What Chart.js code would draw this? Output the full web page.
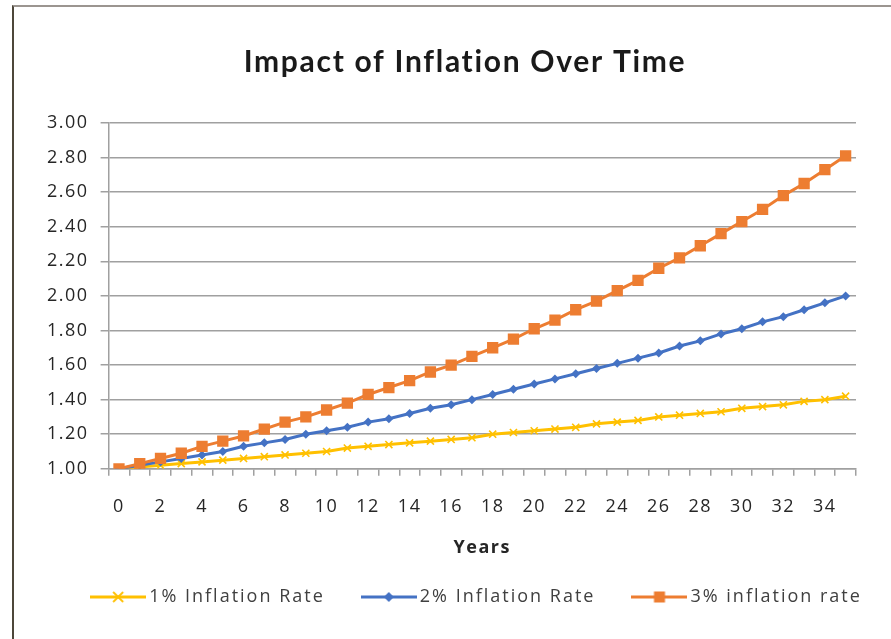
<!DOCTYPE html>
<html>
<head>
<meta charset="utf-8">
<title>Impact of Inflation Over Time</title>
<script src="https://cdn.jsdelivr.net/npm/chart.js@4/dist/chart.umd.min.js"></script>
<style>
  html, body { margin: 0; padding: 0; background: #ffffff; }
  #wrap { position: relative; width: 891px; height: 639px; overflow: hidden; }
  #frame {
    position: absolute; left: 12px; top: 5px; right: -10px; bottom: -10px;
    border-left: 2px solid #4d473a; border-top: 2px solid #9b9590;
    pointer-events: none;
  }
</style>
</head>
<body>
<div id="wrap">
  <canvas id="chart" width="891" height="639"></canvas>
  <div id="frame"></div>
</div>
<script>
// Years since start
const years = [0,1,2,3,4,5,6,7,8,9,10,11,12,13,14,15,16,17,18,19,20,21,22,23,24,25,26,27,28,29,30,31,32,33,34,35];

// Growth of 1.00 under each inflation rate
const rate1 = [1.00,1.01,1.02,1.03,1.04,1.05,1.06,1.07,1.08,1.09,1.10,1.12,1.13,1.14,1.15,1.16,1.17,1.18,1.20,1.21,1.22,1.23,1.24,1.26,1.27,1.28,1.30,1.31,1.32,1.33,1.35,1.36,1.37,1.39,1.40,1.42];
const rate2 = [1.00,1.02,1.04,1.06,1.08,1.10,1.13,1.15,1.17,1.20,1.22,1.24,1.27,1.29,1.32,1.35,1.37,1.40,1.43,1.46,1.49,1.52,1.55,1.58,1.61,1.64,1.67,1.71,1.74,1.78,1.81,1.85,1.88,1.92,1.96,2.00];
const rate3 = [1.00,1.03,1.06,1.09,1.13,1.16,1.19,1.23,1.27,1.30,1.34,1.38,1.43,1.47,1.51,1.56,1.60,1.65,1.70,1.75,1.81,1.86,1.92,1.97,2.03,2.09,2.16,2.22,2.29,2.36,2.43,2.50,2.58,2.65,2.73,2.81];

const chartTitle = 'Impact of Inflation Over Time';
const seriesNames = ['1% Inflation Rate', '2% Inflation Rate', '3% inflation rate'];
const seriesColors = ['#FFC000', '#4472C4', '#ED7D31'];

const yMin = 1.0, yMax = 3.0, yStep = 0.2;

const FONT = "'Open Sans', 'DejaVu Sans', sans-serif";

// Legend swatch: a short line with the series marker in the middle
function legendSwatch(color, kind) {
  const c = document.createElement('canvas');
  c.width = 56; c.height = 16;
  const g = c.getContext('2d');
  g.strokeStyle = color; g.fillStyle = color;
  g.lineWidth = 3; g.lineCap = 'butt';
  g.beginPath(); g.moveTo(0, 8); g.lineTo(56, 8); g.stroke();
  const cx = 28, cy = 8;
  if (kind === 'x') {
    g.lineWidth = 1.8;
    g.beginPath();
    g.moveTo(cx - 5, cy - 5); g.lineTo(cx + 5, cy + 5);
    g.moveTo(cx + 5, cy - 5); g.lineTo(cx - 5, cy + 5);
    g.stroke();
  } else if (kind === 'diamond') {
    g.beginPath();
    g.moveTo(cx, cy - 5); g.lineTo(cx + 5, cy); g.lineTo(cx, cy + 5); g.lineTo(cx - 5, cy);
    g.closePath(); g.fill();
  } else {
    g.fillRect(cx - 5.5, cy - 5.5, 11, 11);
  }
  return c;
}
const swatches = [
  legendSwatch(seriesColors[0], 'x'),
  legendSwatch(seriesColors[1], 'diamond'),
  legendSwatch(seriesColors[2], 'square')
];

// Loose text tracking for the axis labels
const tracking = {
  id: 'tracking',
  beforeUpdate(chart) { chart.ctx.letterSpacing = '1.5px'; },
  beforeDraw(chart) { chart.ctx.letterSpacing = '1.5px'; }
};

// Title above the plot and a one-row legend under the axis title
const titleAndLegend = {
  id: 'titleAndLegend',
  afterDraw(chart) {
    const ctx = chart.ctx;
    ctx.save();
    // title
    ctx.letterSpacing = '1.7px';
    ctx.font = "bold 30px Lato, 'Open Sans', sans-serif";
    ctx.fillStyle = '#1a1a1a';
    ctx.textAlign = 'center';
    ctx.textBaseline = 'middle';
    ctx.fillText(chartTitle, 465, 62);

    // legend
    ctx.letterSpacing = '2px';
    ctx.font = '18px ' + FONT;
    ctx.fillStyle = '#404040';
    ctx.textAlign = 'left';
    const lineLen = 56, textGap = 3, itemGap = 36, cy = 597;
    const widths = seriesNames.map(n => ctx.measureText(n).width);
    const total = widths.reduce((s, w) => s + lineLen + textGap + w, 0) + itemGap * (seriesNames.length - 1);
    let x = 476 - total / 2;
    seriesNames.forEach((name, i) => {
      ctx.drawImage(swatches[i], x, cy - 8);
      x += lineLen + textGap;
      ctx.fillText(name, x, cy);
      x += widths[i] + itemGap;
    });
    ctx.restore();
  }
};

new Chart(document.getElementById('chart'), {
  type: 'line',
  plugins: [tracking, titleAndLegend],
  data: {
    labels: years,
    datasets: [
      {
        label: seriesNames[0], data: rate1,
        borderColor: seriesColors[0], backgroundColor: seriesColors[0],
        borderWidth: 3, pointStyle: 'crossRot', pointRadius: 5,
        pointBorderWidth: 1.6, pointBorderColor: seriesColors[0], order: 3
      },
      {
        label: seriesNames[1], data: rate2,
        borderColor: seriesColors[1], backgroundColor: seriesColors[1],
        borderWidth: 3, pointStyle: 'rectRot', pointRadius: 4.5,
        pointBorderWidth: 0, order: 2
      },
      {
        label: seriesNames[2], data: rate3,
        borderColor: seriesColors[2], backgroundColor: seriesColors[2],
        borderWidth: 3, pointStyle: 'rect', pointRadius: 8,
        pointBorderWidth: 0, order: 1
      }
    ]
  },
  options: {
    responsive: false,
    animation: false,
    devicePixelRatio: 1,
    layout: { padding: { top: 123, left: 35, right: 35, bottom: 74 } },
    elements: { line: { tension: 0 } },
    plugins: {
      title: { display: false },
      legend: { display: false },
      tooltip: { enabled: false }
    },
    scales: {
      x: {
        type: 'category',
        offset: true,
        grid: {
          offset: true, drawOnChartArea: false, drawTicks: true,
          tickLength: 7, color: '#a0a0a0', lineWidth: 1.5
        },
        border: { display: true, color: '#a0a0a0', width: 1.5 },
        ticks: {
          autoSkip: false, maxRotation: 0, minRotation: 0,
          color: '#262626', padding: 20,
          font: { family: FONT, size: 18 },
          callback: function (value, index) {
            return index % 2 === 0 ? this.getLabelForValue(value) : '';
          }
        },
        title: {
          display: true, text: 'Years', color: '#262626',
          font: { family: FONT, size: 18, weight: 'bold' },
          padding: { top: 0, bottom: 6 }
        }
      },
      y: {
        min: yMin, max: yMax,
        grid: { color: '#a0a0a0', lineWidth: 1.5, tickLength: 8, drawTicks: true },
        border: { display: true, color: '#a0a0a0', width: 1.5 },
        ticks: {
          stepSize: yStep, color: '#262626', padding: 12,
          font: { family: FONT, size: 18 },
          callback: (v) => Number(v).toFixed(2)
        }
      }
    }
  }
});
</script>
</body>
</html>
